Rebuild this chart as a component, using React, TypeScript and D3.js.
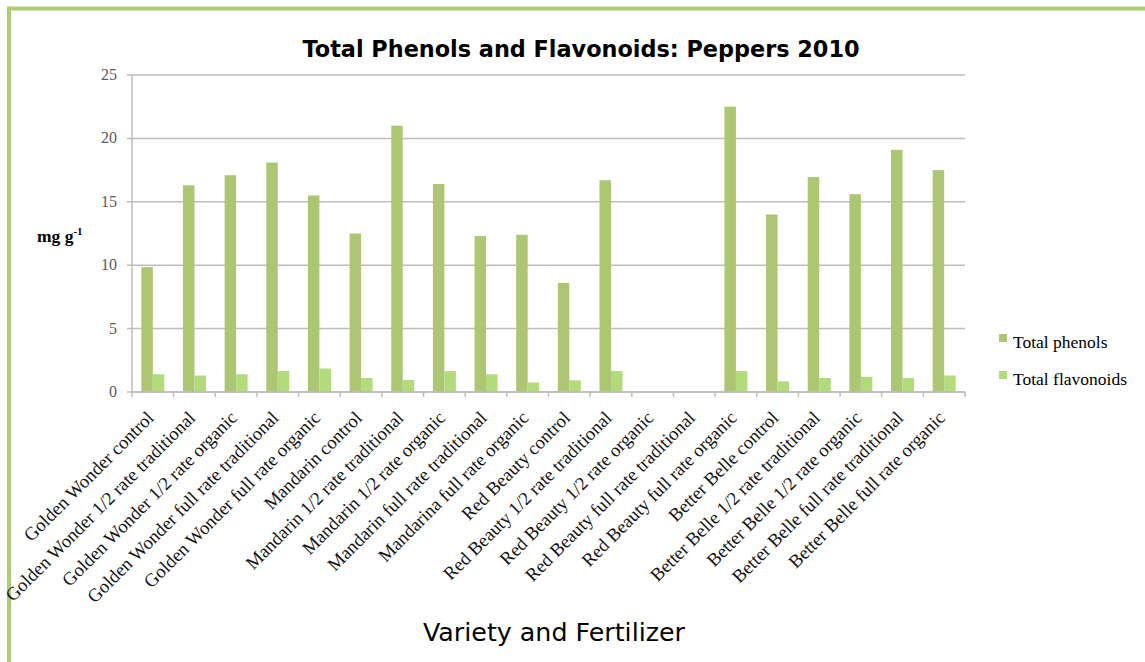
import React from "react";
import * as d3 from "d3";

const categories = [
  "Golden Wonder control",
  "Golden Wonder 1/2 rate traditional",
  "Golden Wonder 1/2 rate organic",
  "Golden Wonder full rate traditional",
  "Golden Wonder full rate organic",
  "Mandarin control",
  "Mandarin 1/2 rate traditional",
  "Mandarin 1/2 rate organic",
  "Mandarin full rate traditional",
  "Mandarina full rate organic",
  "Red Beauty control",
  "Red Beauty 1/2 rate traditional",
  "Red Beauty 1/2 rate organic",
  "Red Beauty full rate traditional",
  "Red Beauty full rate organic",
  "Better Belle control",
  "Better Belle 1/2 rate traditional",
  "Better Belle 1/2 rate organic",
  "Better Belle full rate traditional",
  "Better Belle full rate organic",
];

const totalPhenols: (number | null)[] = [
  9.85, 16.3, 17.1, 18.1, 15.5, 12.5, 21.0, 16.4, 12.3, 12.4,
  8.6, 16.7, null, null, 22.5, 14.0, 16.95, 15.6, 19.1, 17.5,
];

const totalFlavonoids: (number | null)[] = [
  1.4, 1.3, 1.4, 1.65, 1.85, 1.1, 0.95, 1.65, 1.4, 0.75,
  0.92, 1.65, null, null, 1.65, 0.84, 1.1, 1.2, 1.1, 1.3,
];

const seriesNames = ["Total phenols", "Total flavonoids"];
const seriesColors = ["#adc673", "#b2dc7c"];
const yTicks = [0, 5, 10, 15, 20, 25];

const W = 1145;
const H = 662;
const plot = { left: 132, right: 965, top: 75, bottom: 392 };

export default function App() {
  const x = d3
    .scaleBand<string>()
    .domain(categories)
    .range([plot.left, plot.right])
    .paddingInner(0)
    .paddingOuter(0);
  const y = d3.scaleLinear().domain([0, 25]).range([plot.bottom, plot.top]);
  const groupW = 23;
  const xSub = d3
    .scaleBand<string>()
    .domain(seriesNames)
    .range([0, groupW]);

  const series = [totalPhenols, totalFlavonoids];
  const serif = "'Liberation Serif', 'Times New Roman', serif";
  const sans = "'DejaVu Sans', 'Liberation Sans', sans-serif";
  const bw = x.bandwidth();

  const boundaries = categories.map((c) => x(c) as number).concat([plot.right]);

  return (
    <svg
      width={W}
      height={H}
      style={{ position: "absolute", left: 0, top: 0, background: "#fff" }}
    >
      {/* border */}
      <line x1={9} y1={8.5} x2={W} y2={8.5} stroke="#aecb78" strokeWidth={4} />
      <line x1={9} y1={6.5} x2={9} y2={H} stroke="#aecb78" strokeWidth={4} />

      {/* title */}
      <text
        x={581}
        y={57}
        textAnchor="middle"
        fontFamily={sans}
        fontWeight="bold"
        fontSize={23}
        textLength={557}
        lengthAdjust="spacingAndGlyphs"
        fill="#000"
      >
        Total Phenols and Flavonoids: Peppers 2010
      </text>

      {/* gridlines */}
      {yTicks.map((t) => (
        <line
          key={"g" + t}
          x1={plot.left - 5}
          x2={plot.right}
          y1={y(t)}
          y2={y(t)}
          stroke="#bdbdbd"
          strokeWidth={1.5}
        />
      ))}
      {/* y axis line */}
      <line
        x1={plot.left}
        x2={plot.left}
        y1={plot.top}
        y2={plot.bottom}
        stroke="#bdbdbd"
        strokeWidth={1.5}
      />
      {/* y tick labels */}
      {yTicks.map((t) => (
        <text
          key={"yl" + t}
          x={plot.left - 15}
          y={y(t) + 5}
          textAnchor="end"
          fontFamily={serif}
          fontSize={16}
          fill="#595959"
        >
          {t}
        </text>
      ))}

      {/* y axis label */}
      <text x={37} y={242} fontFamily={serif} fontWeight="bold" fontSize={17.5} fill="#000">
        mg g<tspan dy={-7} fontSize={11}>-1</tspan>
      </text>

      {/* bars */}
      {series.map((vals, si) =>
        vals.map((v, i) =>
          v == null ? null : (
            <rect
              key={"b" + si + "-" + i}
              x={(x(categories[i]) as number) + bw / 2 - groupW / 2 + (xSub(seriesNames[si]) as number)}
              y={y(v)}
              width={xSub.bandwidth()}
              height={y(0) - y(v)}
              fill={seriesColors[si]}
            />
          )
        )
      )}

      {/* x axis line and ticks */}
      <line
        x1={plot.left}
        x2={plot.right}
        y1={plot.bottom}
        y2={plot.bottom}
        stroke="#bdbdbd"
        strokeWidth={1.5}
      />
      {boundaries.map((bx, i) => (
        <line
          key={"t" + i}
          x1={bx}
          x2={bx}
          y1={plot.bottom}
          y2={plot.bottom + 5}
          stroke="#bdbdbd"
          strokeWidth={1.5}
        />
      ))}

      {/* category labels */}
      {categories.map((c) => {
        const cx = (x(c) as number) + bw / 2 + 2;
        const cy = 419;
        return (
          <text
            key={"cl" + c}
            x={cx}
            y={cy}
            transform={`rotate(-45 ${cx} ${cy})`}
            textAnchor="end"
            fontFamily={serif}
            fontSize={18.6}
            fill="#111"
          >
            {c}
          </text>
        );
      })}

      {/* x axis title */}
      <text
        x={554}
        y={641}
        textAnchor="middle"
        fontFamily={sans}
        fontSize={24}
        textLength={262}
        lengthAdjust="spacingAndGlyphs"
        fill="#000"
      >
        Variety and Fertilizer
      </text>

      {/* legend */}
      {seriesNames.map((s, i) => (
        <g key={"lg" + s}>
          <rect x={999} y={334 + i * 37} width={8} height={8} fill={seriesColors[i]} />
          <text x={1013} y={348 + i * 37} fontFamily={serif} fontSize={17.5} fill="#000">
            {s}
          </text>
        </g>
      ))}
    </svg>
  );
}
